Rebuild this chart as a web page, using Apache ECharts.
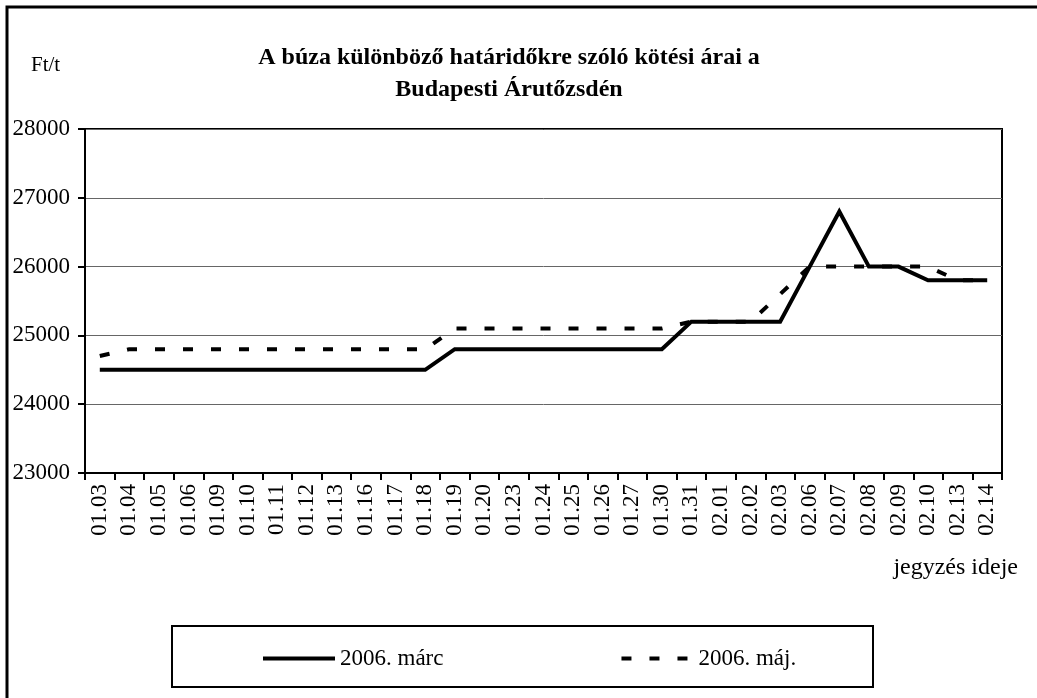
<!DOCTYPE html>
<html>
<head>
<meta charset="utf-8">
<script src="https://cdn.jsdelivr.net/npm/echarts@6/dist/echarts.min.js"></script>
<style>
html,body{margin:0;padding:0;background:#fff;}
#chart{width:1037px;height:698px;}
</style>
</head>
<body>
<div id="chart"></div>
<script>
const categories = ['01.03','01.04','01.05','01.06','01.09','01.10','01.11','01.12','01.13','01.16','01.17','01.18','01.19','01.20','01.23','01.24','01.25','01.26','01.27','01.30','01.31','02.01','02.02','02.03','02.06','02.07','02.08','02.09','02.10','02.13','02.14'];
const marc = [24500,24500,24500,24500,24500,24500,24500,24500,24500,24500,24500,24500,24800,24800,24800,24800,24800,24800,24800,24800,25200,25200,25200,25200,26000,26800,26000,26000,25800,25800,25800];
const maj = [24700,24800,24800,24800,24800,24800,24800,24800,24800,24800,24800,24800,25100,25100,25100,25100,25100,25100,25100,25100,25200,25200,25200,25600,26000,26000,26000,26000,26000,25800,25800];
const yTicks = {min: 23000, max: 28000, interval: 1000};
const seriesNames = ['2006. márc', '2006. máj.'];
const titleText = 'A búza különböző határidőkre szóló kötési árai a\nBudapesti Árutőzsdén';
const yUnit = 'Ft/t';
const xName = 'jegyzés ideje';

const FONT = '"Liberation Serif", "Times New Roman", serif';
const chart = echarts.init(document.getElementById('chart'));
chart.setOption({
  backgroundColor: '#fff',
  animation: false,
  textStyle: {fontFamily: FONT, color: '#000'},
  title: {
    text: titleText,
    left: 504, top: 37, textAlign: 'center',
    textStyle: {fontFamily: FONT, fontWeight: 'bold', fontSize: 24, lineHeight: 32, color: '#000'}
  },
  grid: {left: 85, right: 35, top: 129, bottom: 225, show: true, borderColor: '#000', borderWidth: 2, backgroundColor: 'transparent'},
  legend: {
    data: seriesNames,
    left: 261, top: 647, padding: 0,
    itemWidth: 72, itemHeight: 14, itemGap: 176,
    textStyle: {fontFamily: FONT, fontSize: 23, color: '#000'},
    itemStyle: {opacity: 0},
    lineStyle: {width: 4, cap: 'butt'}
  },
  xAxis: {
    type: 'category', data: categories, boundaryGap: true,
    axisLine: {lineStyle: {color: '#000', width: 2}},
    axisTick: {show: true, length: 7, lineStyle: {color: '#000', width: 2}},
    axisLabel: {rotate: 90, fontFamily: FONT, fontSize: 23, color: '#000', margin: 11, interval: 0},
    splitLine: {show: false}
  },
  yAxis: {
    type: 'value', min: yTicks.min, max: yTicks.max, interval: yTicks.interval,
    axisLine: {show: true, lineStyle: {color: '#000', width: 2}},
    axisTick: {show: true, length: 7, lineStyle: {color: '#000', width: 2}},
    axisLabel: {fontFamily: FONT, fontSize: 23, color: '#000', margin: 15, formatter: v => String(v)},
    splitLine: {show: true, lineStyle: {color: '#666', width: 1}}
  },
  series: [
    {name: seriesNames[0], type: 'line', data: marc, symbol: 'none', lineStyle: {color: '#000', width: 4, join: 'miter'}, itemStyle: {color: '#000'}},
    {name: seriesNames[1], type: 'line', data: maj, symbol: 'none', lineStyle: {color: '#000', width: 4, type: [10, 18]}, itemStyle: {color: '#000'}}
  ],
  graphic: [
    {type: 'rect', shape: {x: 7, y: 7, width: 1100, height: 800}, style: {fill: 'none', stroke: '#000', lineWidth: 3}, silent: true, z: -1},
    {type: 'rect', shape: {x: 172, y: 626, width: 701, height: 61}, style: {fill: 'none', stroke: '#000', lineWidth: 2}, silent: true},
    {type: 'text', left: 31, top: 55, style: {text: yUnit, font: '21px ' + FONT, fill: '#000'}},
    {type: 'text', right: 19, top: 556, style: {text: xName, font: '24px ' + FONT, fill: '#000'}}
  ]
});
</script>
</body>
</html>
